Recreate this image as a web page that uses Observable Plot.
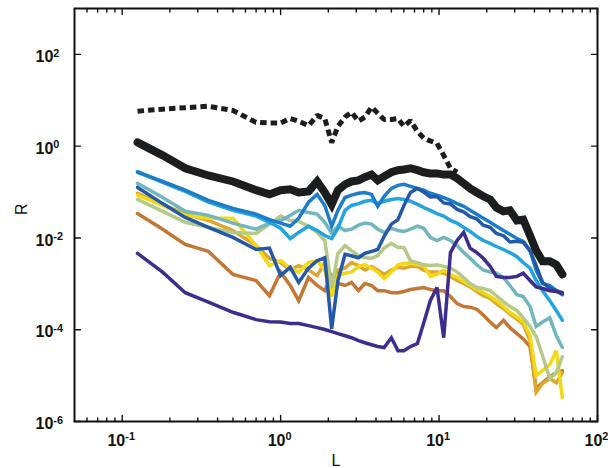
<!DOCTYPE html>
<html>
<head>
<meta charset="utf-8">
<script src="https://cdn.jsdelivr.net/npm/d3@7"></script>
<script src="https://cdn.jsdelivr.net/npm/@observablehq/plot@0.6"></script>
<style>
  html, body { margin: 0; padding: 0; background: #fff; }
  #chart svg { display: block; }
</style>
</head>
<body>
<div id="chart"></div>
<script>
// x grid (L)
const L = [0.125, 0.18, 0.25, 0.35, 0.5, 0.7, 0.85, 1.0, 1.15, 1.3, 1.5, 1.7, 1.9, 2.1, 2.3, 2.55, 2.8, 3.1, 3.4, 3.75, 4.1, 4.5, 5.0, 5.5, 6.0, 6.6, 7.3, 8.0, 8.8, 9.7, 10.7, 11.8, 13, 14.3, 15.7, 17.3, 19, 21, 23, 25.5, 28, 31, 34, 37.5, 41, 45, 50, 55, 60];

// series values (R)
const Rdotted = [5.8, 6.4, 6.9, 7.4, 6.0, 3.3, 3.2, 3.2, 4.0, 3.5, 2.8, 4.7, 4.0, 1.2, 2.7, 4.3, 5.5, 3.5, 4.3, 7.1, 5.2, 3.8, 3.8, 4.0, 2.7, 3.6, 2.1, 1.5, 1.3, 1.15, 0.63, 0.33, 0.27];
const Rblack = [1.21, 0.63, 0.33, 0.23, 0.17, 0.11, 0.089, 0.11, 0.115, 0.098, 0.103, 0.17, 0.098, 0.054, 0.11, 0.147, 0.17, 0.18, 0.21, 0.24, 0.18, 0.22, 0.27, 0.30, 0.31, 0.33, 0.30, 0.27, 0.255, 0.255, 0.24, 0.24, 0.20, 0.155, 0.12, 0.098, 0.081, 0.069, 0.046, 0.038, 0.040, 0.024, 0.025, 0.0113, 0.0053, 0.0031, 0.0031, 0.0026, 0.0016];
const Rblue = [0.27, 0.17, 0.11, 0.066, 0.044, 0.033, 0.025, 0.021, 0.018, 0.027, 0.060, 0.089, 0.051, 0.018, 0.040, 0.076, 0.086, 0.094, 0.098, 0.089, 0.049, 0.081, 0.12, 0.14, 0.147, 0.133, 0.12, 0.11, 0.094, 0.086, 0.076, 0.066, 0.056, 0.049, 0.040, 0.033, 0.027, 0.022, 0.018, 0.0145, 0.012, 0.0097, 0.0084, 0.0053, 0.0020, 0.00102, 0.00092, 0.00071, 0.00058];
const Rlightblue = [0.28, 0.163, 0.103, 0.060, 0.040, 0.030, 0.022, 0.0163, 0.0097, 0.0132, 0.018, 0.0145, 0.0113, 0.0097, 0.0163, 0.040, 0.051, 0.056, 0.063, 0.066, 0.056, 0.063, 0.069, 0.072, 0.069, 0.063, 0.054, 0.046, 0.040, 0.034, 0.030, 0.024, 0.021, 0.017, 0.0138, 0.0108, 0.0088, 0.0076, 0.0065, 0.0056, 0.0048, 0.0039, 0.0029, 0.0022, 0.00118, 0.00071, 0.00043, 0.00026, 0.00016];
const Rdarkblue = [0.126, 0.056, 0.028, 0.017, 0.0103, 0.0056, 0.0060, 0.00151, 0.0023, 0.00107, 0.0022, 0.0032, 0.0037, 0.000105, 0.00118, 0.0044, 0.0041, 0.0037, 0.0046, 0.0051, 0.0056, 0.0108, 0.020, 0.025, 0.051, 0.098, 0.12, 0.10, 0.078, 0.080, 0.058, 0.055, 0.042, 0.037, 0.029, 0.026, 0.019, 0.017, 0.0125, 0.0112, 0.0082, 0.0085, 0.0080, 0.0053, 0.0025, 0.00107, 0.00079, 0.00071, 0.00064];
const Rteal = [0.155, 0.076, 0.038, 0.031, 0.021, 0.0155, 0.021, 0.024, 0.031, 0.040, 0.036, 0.033, 0.022, 0.0127, 0.018, 0.0145, 0.0155, 0.019, 0.021, 0.020, 0.0155, 0.0132, 0.0163, 0.0145, 0.0138, 0.0155, 0.018, 0.0163, 0.0103, 0.0088, 0.0103, 0.0088, 0.0068, 0.0048, 0.0036, 0.0026, 0.0020, 0.0018, 0.0017, 0.00137, 0.00092, 0.00058, 0.00053, 0.00032, 0.000118, 0.000147, 0.000182, 0.000074, 0.000041];
const Rolive = [0.069, 0.038, 0.022, 0.017, 0.0132, 0.0125, 0.020, 0.030, 0.024, 0.023, 0.018, 0.0132, 0.0088, 0.00086, 0.0046, 0.0068, 0.0053, 0.0041, 0.0037, 0.0036, 0.0041, 0.0060, 0.0076, 0.0062, 0.0062, 0.0032, 0.0029, 0.0026, 0.0025, 0.0026, 0.0024, 0.0022, 0.0018, 0.00137, 0.00102, 0.00083, 0.00079, 0.00071, 0.00055, 0.00041, 0.00032, 0.00026, 0.000182, 0.000118, 0.000071, 0.000027, 0.0000086, 0.0000116, 0.000026];
const Ryellow = [0.086, 0.051, 0.031, 0.027, 0.027, 0.0068, 0.0025, 0.0032, 0.0022, 0.0018, 0.0029, 0.0032, 0.0020, 0.00053, 0.00151, 0.0017, 0.0018, 0.0024, 0.0026, 0.0022, 0.0018, 0.00130, 0.0018, 0.0026, 0.0028, 0.0028, 0.0026, 0.0025, 0.00145, 0.0016, 0.0020, 0.0016, 0.00137, 0.00113, 0.00092, 0.00075, 0.00064, 0.00053, 0.00043, 0.00032, 0.00024, 0.00019, 0.000147, 0.000074, 0.00001, 0.000013, 0.0000173, 0.000035, 0.0000033];
const Rgold = [0.094, 0.054, 0.033, 0.024, 0.0145, 0.0068, 0.0036, 0.0029, 0.0020, 0.0025, 0.0020, 0.00151, 0.0029, 0.00071, 0.0020, 0.0022, 0.0029, 0.0025, 0.0020, 0.0024, 0.0020, 0.0016, 0.0020, 0.0023, 0.0022, 0.0024, 0.0024, 0.0020, 0.0018, 0.0018, 0.0017, 0.00145, 0.00118, 0.00102, 0.00086, 0.00068, 0.00055, 0.00048, 0.00037, 0.00029, 0.00022, 0.00017, 0.00013, 0.000058, 0.0000043, 0.0000067, 0.0000086, 0.000007, 0.0000116];
const Rorange = [0.034, 0.0155, 0.0072, 0.0051, 0.0016, 0.00118, 0.00055, 0.0018, 0.00092, 0.00043, 0.00137, 0.00092, 0.00071, 0.00151, 0.00102, 0.00092, 0.00107, 0.00071, 0.00102, 0.00092, 0.00071, 0.00071, 0.00064, 0.00064, 0.00068, 0.00075, 0.00079, 0.00083, 0.00075, 0.00071, 0.00071, 0.00053, 0.00037, 0.00032, 0.00031, 0.00028, 0.00021, 0.000147, 0.000111, 0.00016, 0.000111, 0.000082, 0.000063, 0.000043, 0.0000052, 0.000007, 0.0000095, 0.0000116, 0.0000128];
const Rpurple = [0.0046, 0.0018, 0.00064, 0.00040, 0.00024, 0.000166, 0.000150, 0.000147, 0.000137, 0.000137, 0.000123, 0.000111, 0.000101, 0.000091, 0.000082, 0.000074, 0.000067, 0.000058, 0.000052, 0.000047, 0.000043, 0.000041, 0.000067, 0.000035, 0.000035, 0.000043, 0.000050, 0.00014, 0.00043, 0.00083, 0.000067, 0.0048, 0.0088, 0.0132, 0.0060, 0.0048, 0.0036, 0.0024, 0.00145, 0.00137, 0.00137, 0.00145, 0.0017, 0.00118, 0.00086, 0.00079, 0.00071, 0.00068, 0.00062];

// ticks
const xMajor = [0.1, 1, 10, 100];
const xMinor = [0.06, 0.07, 0.08, 0.09, 0.2, 0.3, 0.4, 0.5, 0.6, 0.7, 0.8, 0.9, 2, 3, 4, 5, 6, 7, 8, 9, 20, 30, 40, 50, 60, 70, 80, 90];
const yMajor = [1e-6, 1e-4, 1e-2, 1, 100];

const rows = (vals) => vals.map((r, i) => ({L: L[i], R: r}));

const colored = [
  {vals: Rorange, color: "#c27834"},
  {vals: Rgold, color: "#dca630"},
  {vals: Ryellow, color: "#f3d816"},
  {vals: Rolive, color: "#b4c987"},
  {vals: Rteal, color: "#72b6bd"},
  {vals: Rlightblue, color: "#22a4de"},
  {vals: Rblue, color: "#1d7cc8"},
  {vals: Rdarkblue, color: "#2459a8"},
  {vals: Rpurple, color: "#3d2d8c"}
];

const tickShape = {draw(context, l) { context.moveTo(0, 0); context.lineTo(0, -l); }};
const tickStyle = {stroke: "#111", strokeWidth: 1.4, anchor: "start", shape: tickShape};
const expOf = d => String(Math.round(Math.log10(d)));

const chart = Plot.plot({
  width: 608,
  height: 468,
  marginLeft: 74,
  marginRight: 11,
  marginTop: 8,
  marginBottom: 47,
  style: {fontFamily: "'Liberation Sans', Arial, Helvetica, sans-serif", background: "#fff", color: "#111"},
  x: {type: "log", domain: [0.05, 100], axis: null},
  y: {type: "log", domain: [1e-6, 1e3], axis: null},
  marks: [
    ...colored.map(s => Plot.line(rows(s.vals), {x: "L", y: "R", stroke: s.color, strokeWidth: 3.5, strokeLinejoin: "miter", strokeMiterlimit: 3})),
    Plot.line(rows(Rblack), {x: "L", y: "R", stroke: "#1b1d1f", strokeWidth: 8, strokeLinejoin: "miter", strokeMiterlimit: 3}),
    Plot.line(rows(Rdotted), {x: "L", y: "R", stroke: "#1b1d1f", strokeWidth: 5, strokeDasharray: "6.5,4", strokeLinecap: "butt", strokeLinejoin: "miter"}),
    Plot.frame({stroke: "#111", strokeWidth: 2}),
    // x ticks bottom & top
    Plot.vector(xMajor, {x: d => d, frameAnchor: "bottom", rotate: 0, length: 6, ...tickStyle}),
    Plot.vector(xMinor, {x: d => d, frameAnchor: "bottom", rotate: 0, length: 3.5, ...tickStyle}),
    Plot.vector(xMajor, {x: d => d, frameAnchor: "top", rotate: 180, length: 6, ...tickStyle}),
    Plot.vector(xMinor, {x: d => d, frameAnchor: "top", rotate: 180, length: 3.5, ...tickStyle}),
    // y ticks left & right
    Plot.vector(yMajor, {y: d => d, frameAnchor: "left", rotate: 90, length: 6, ...tickStyle}),
    Plot.vector(yMajor, {y: d => d, frameAnchor: "right", rotate: 270, length: 6, ...tickStyle}),
    // tick labels
    Plot.text(xMajor, {x: d => d, frameAnchor: "bottom", dy: 19, dx: -1, text: d => "10^" + expOf(d), fontSize: 16, fontWeight: "bold", fill: "#111", lineAnchor: "middle", textAnchor: "middle"}),
    Plot.text(yMajor, {y: d => d, frameAnchor: "left", dx: -39, dy: 2.5, text: d => "10^" + expOf(d), fontSize: 16, fontWeight: "bold", fill: "#111", lineAnchor: "middle", textAnchor: "start"}),
    // axis titles
    Plot.text(["L"], {frameAnchor: "bottom", dy: 39, fontSize: 16, fill: "#111", lineAnchor: "middle"}),
    Plot.text(["R"], {frameAnchor: "left", dx: -53, rotate: -90, fontSize: 16, fill: "#111", lineAnchor: "middle"})
  ]
});

d3.select(chart).selectAll("text").each(function() {
  const s = this.textContent;
  if (!s.includes("^")) return;
  const [b, e] = s.split("^");
  const t = d3.select(this);
  t.text(null);
  t.append("tspan").text(b);
  t.append("tspan").attr("dy", "-0.5em").attr("font-size", "0.68em").text(e);
});

document.getElementById("chart").appendChild(chart);
</script>
</body>
</html>
